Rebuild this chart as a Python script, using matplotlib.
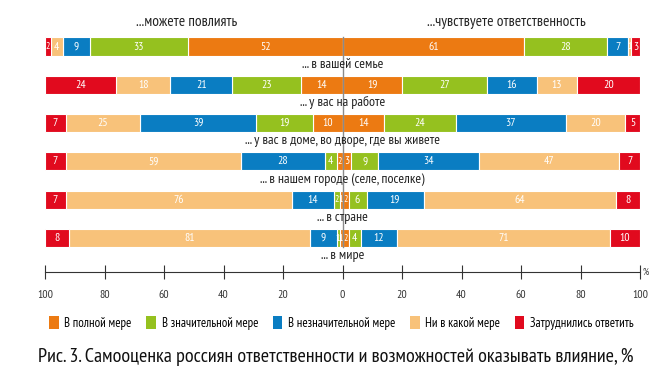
import numpy as np
import matplotlib
matplotlib.use('Agg')
import matplotlib.pyplot as plt
from matplotlib.patches import Patch

plt.rcParams['font.family'] = ['PT Sans Narrow', 'DejaVu Sans']

rows = ['... в вашей семье', '... у вас на работе', '... у вас в доме, во дворе, где вы живете',
        '... в нашем городе (селе, поселке)', '... в стране', '... в мире']
categories = ['В полной мере', 'В значительной мере', 'В незначительной мере',
              'Ни в какой мере', 'Затруднились ответить']
colors = ['#EC7A12', '#95C11F', '#0A7DC2', '#F8C27A', '#E10A1E']

# ...можете повлиять (left side, from centre outwards)
influence = [
    [52, 14, 10, 2, 1, 1],
    [33, 23, 19, 4, 2, 1],
    [9, 21, 39, 28, 14, 9],
    [4, 18, 25, 59, 76, 81],
    [2, 24, 7, 7, 7, 8],
]
# ...чувствуете ответственность (right side)
responsibility = [
    [61, 19, 14, 3, 2, 2],
    [28, 27, 24, 9, 6, 4],
    [7, 16, 37, 34, 19, 12],
    [1, 13, 20, 47, 64, 71],
    [3, 20, 5, 7, 8, 10],
]

fig = plt.figure(figsize=(6.72, 3.76), dpi=100)
ax = fig.add_axes([45/672, 1 - 272/376, 595/672, (272 - 15)/376])

y = np.arange(len(rows))
h = 0.47


def draw_side(data, sign):
    data = np.array(data, dtype=float)
    widths = data / data.sum(axis=0) * 100
    start = np.zeros(len(rows))
    for k in range(len(categories)):
        w = widths[k]
        left = start if sign > 0 else -(start + w)
        ax.barh(y, w, left=left, height=h, color=colors[k], edgecolor='white', linewidth=0.8)
        for i in range(len(rows)):
            cx = sign * (start[i] + w[i] / 2)
            fs = 8.5 if w[i] > 2.5 else 7
            ax.text(cx, y[i], '%d' % data[k][i], ha='center', va='center',
                    color='white', fontsize=fs)
        start = start + w


draw_side(influence, -1)
draw_side(responsibility, 1)

ax.plot([0, 0], [-h / 2, len(rows) - 1 + h / 2], color='#8a8a8a', lw=1, zorder=3)

for i, r in enumerate(rows):
    ax.text(0, y[i] + 0.46, r, ha='center', va='center', fontsize=10, color='#222222')

ax.text(-52.5, -0.64, '...можете повлиять', ha='center', va='center', fontsize=11, color='#222222')
ax.text(55, -0.64, '...чувствуете ответственность', ha='center', va='center', fontsize=11, color='#222222')

ax.set_xlim(-100, 100)
ax.set_ylim((272 - 46.5) / 38.3, (15 - 46.5) / 38.3)
for s in ['top', 'right', 'left']:
    ax.spines[s].set_visible(False)
ax.spines['bottom'].set_color('#333333')
ax.set_yticks([])
ticks = np.arange(-100, 101, 20)
ax.set_xticks(ticks)
ax.set_xticklabels(['%d' % abs(t) for t in ticks], fontsize=8.5, color='#333333')
ax.tick_params(axis='x', direction='inout', length=10, width=0.8, color='#333333', pad=8)
ax.text(101, (272 - 46.5) / 38.3, '%', ha='left', va='center', fontsize=7, color='#333333', clip_on=False)

handles = [Patch(facecolor=c, edgecolor='none') for c in colors]
fig.legend(handles, categories, loc='center', bbox_to_anchor=(0.508, 1 - 323/376), ncol=5,
           frameon=False, fontsize=9.2, handlelength=0.75, handleheight=1.1, handletextpad=0.45,
           columnspacing=1.15, borderaxespad=0)

fig.text(0.5, 1 - 357/376, 'Рис. 3. Самооценка россиян ответственности и возможностей оказывать влияние, %',
         ha='center', va='center', fontsize=14.5, color='#111111')

fig.savefig('out.png', dpi=100, facecolor='white')
